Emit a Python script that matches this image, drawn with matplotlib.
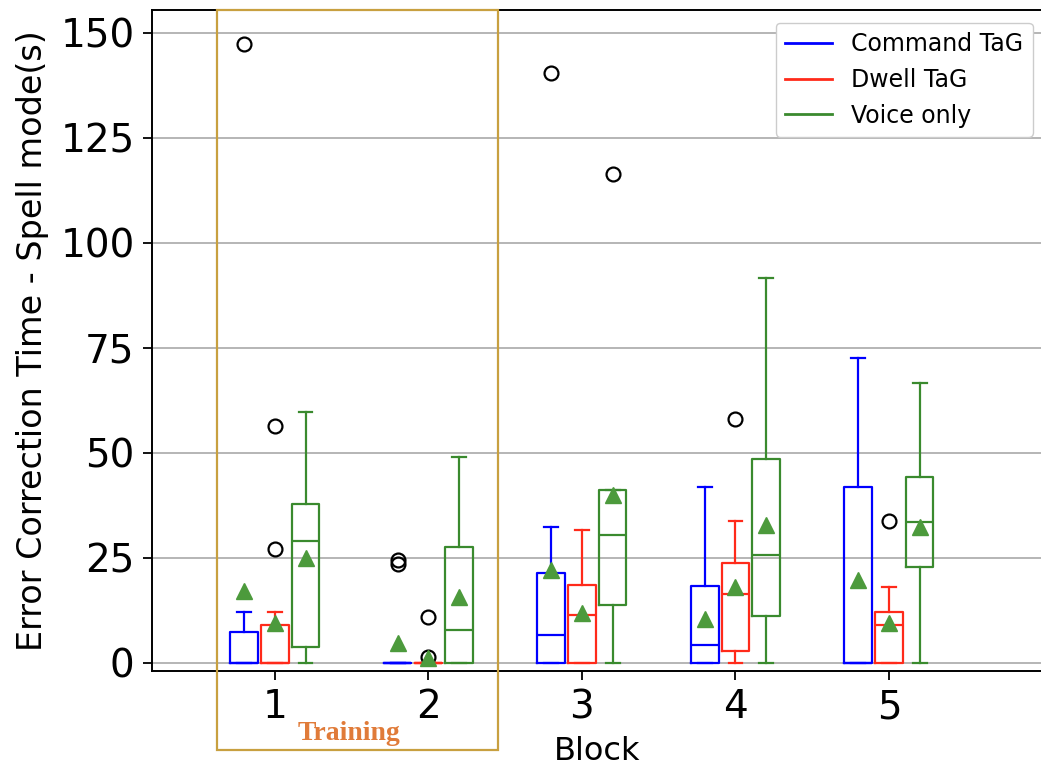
import matplotlib
matplotlib.use("Agg")
import matplotlib.pyplot as plt
from matplotlib.lines import Line2D
from matplotlib.patches import Rectangle

blocks = [1, 2, 3, 4, 5]
series = ["Command TaG", "Dwell TaG", "Voice only"]
colors = ["#0000ff", "#ff2a1a", "#3a8a2e"]
mean_color = "#4c9a3c"

# Command TaG
cmd_whislo = [0, 0, 0, 0, 0]
cmd_q1 = [0, 0, 0, 0, 0]
cmd_med = [0, 0, 6.5, 4.3, 0]
cmd_q3 = [7.3, 0, 21.3, 18.3, 41.9]
cmd_whishi = [12.0, 0, 32.4, 41.9, 72.6]
cmd_mean = [17.0, 4.7, 22.1, 10.4, 19.7]
cmd_fliers = [[147.3], [24.5, 23.5], [140.4], [], []]

# Dwell TaG
dwl_whislo = [0, 0, 0, 0, 0]
dwl_q1 = [0, 0, 0, 2.8, 0]
dwl_med = [0, 0, 11.3, 16.3, 9.0]
dwl_q3 = [9.0, 0, 18.5, 23.7, 12.0]
dwl_whishi = [12.1, 0, 31.6, 33.6, 17.9]
dwl_mean = [9.4, 1.1, 11.8, 18.1, 9.4]
dwl_fliers = [[56.3, 27.0], [10.8, 1.3], [], [58.0], [33.6]]

# Voice only
voi_whislo = [0, 0, 0, 0, 0]
voi_q1 = [3.6, 0, 13.8, 11.2, 22.7]
voi_med = [28.9, 7.7, 30.4, 25.6, 33.4]
voi_q3 = [37.7, 27.5, 41.0, 48.5, 44.2]
voi_whishi = [59.7, 49.0, 41.0, 91.5, 66.6]
voi_mean = [24.9, 15.6, 39.9, 32.8, 32.4]
voi_fliers = [[], [], [116.3], [], []]

yticks = [0, 25, 50, 75, 100, 125, 150]

all_stats = [
    (cmd_whislo, cmd_q1, cmd_med, cmd_q3, cmd_whishi, cmd_mean, cmd_fliers),
    (dwl_whislo, dwl_q1, dwl_med, dwl_q3, dwl_whishi, dwl_mean, dwl_fliers),
    (voi_whislo, voi_q1, voi_med, voi_q3, voi_whishi, voi_mean, voi_fliers),
]

W, H = 1041, 769
fig = plt.figure(figsize=(W / 100, H / 100), dpi=100)
ax = fig.add_axes([152 / W, (H - 671) / H, (1042.5 - 152) / W, (671 - 10) / H])

offsets = [-0.2, 0.0, 0.2]
lw = 1.6
for (wl, q1, md, q3, wh, mn, fl), col, off in zip(all_stats, colors, offsets):
    stats = []
    for i in range(len(blocks)):
        stats.append(dict(whislo=wl[i], q1=q1[i], med=md[i], q3=q3[i],
                          whishi=wh[i], mean=mn[i], fliers=fl[i]))
    ax.bxp(stats, positions=[b + off for b in blocks], widths=0.18,
           showmeans=True, manage_ticks=False,
           boxprops=dict(color=col, linewidth=lw),
           medianprops=dict(color=col, linewidth=lw),
           whiskerprops=dict(color=col, linewidth=lw),
           capprops=dict(color=col, linewidth=lw),
           flierprops=dict(marker='o', markerfacecolor='none',
                           markeredgecolor='black', markersize=10,
                           markeredgewidth=1.6),
           meanprops=dict(marker='^', markerfacecolor=mean_color,
                          markeredgecolor=mean_color, markersize=11))

ax.set_xlim(0.2, 6.0)
ax.set_ylim(-2.0, 155.4)
ax.set_xticks(blocks)
ax.set_xticklabels([str(b) for b in blocks])
ax.set_yticks(yticks)
ax.tick_params(axis='both', labelsize=28, length=6.5, width=1.3, pad=6)
ax.yaxis.grid(True, color='#b0b0b0', linewidth=1.3)
ax.set_axisbelow(True)
for s in ax.spines.values():
    s.set_linewidth(1.4)

ax.set_ylabel("Error Correction Time - Spell mode(s)", fontsize=24, labelpad=8)
ax.set_xlabel("Block", fontsize=23, labelpad=7)

handles = [Line2D([0], [0], color=c, linewidth=2) for c in colors]
ax.legend(handles, series, loc='upper right', fontsize=17,
          bbox_to_anchor=(1032.7 / W, 1 - 22.7 / H),
          bbox_transform=fig.transFigure, borderaxespad=0, framealpha=1,
          edgecolor='#cccccc')

rect = Rectangle((217.3 / W, 1 - 750 / H), (498.3 - 217.3) / W, (750 - 10) / H,
                 transform=fig.transFigure, fill=False, edgecolor='#c8a040',
                 linewidth=1.6, clip_on=False, zorder=0.5)
fig.add_artist(rect)
fig.text(349 / W, 1 - 733 / H, "Training", fontsize=20, fontweight='bold',
         family='Liberation Serif', color='#e07b39', ha='center', va='center')

fig.savefig("out.png", dpi=100)
